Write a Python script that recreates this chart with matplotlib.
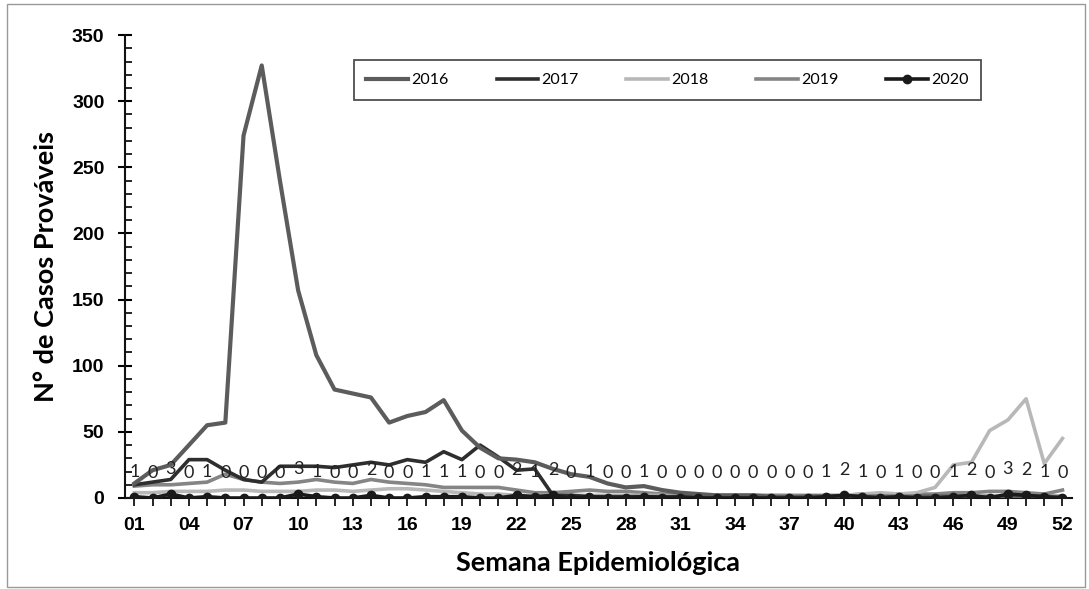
import numpy as np
import matplotlib.pyplot as plt
from matplotlib.patches import Rectangle

# Data (semana epidemiológica 1-52)
weeks = np.arange(1, 53)
tick_labels = ['%02d' % w for w in range(1, 53, 3)]

cases_2016 = [11, 21, 25, 40, 55, 57, 274, 327, 240, 157, 108, 82, 79, 76, 57, 62, 65, 74, 51, 38,
              30, 29, 27, 22, 18, 16, 11, 8, 9, 6, 4, 3, 2, 2, 2, 1, 1, 1, 1, 1,
              1, 1, 1, 1, 1, 1, 1, 1, 1, 1, 1, 1]
cases_2017 = [10, 12, 14, 29, 29, 21, 14, 12, 24, 24, 24, 23, 25, 27, 25, 29, 27, 35, 29, 40,
              31, 21, 22, 2, 2, 1, 1, 1, 1, 1, 1, 1, 1, 1, 1, 1, 1, 1, 1, 1,
              1, 1, 1, 1, 1, 1, 1, 1, 1, 1, 1, 1]
cases_2018 = [4, 4, 5, 5, 5, 6, 6, 5, 5, 5, 6, 6, 5, 6, 7, 7, 6, 5, 4, 3,
              3, 2, 2, 2, 2, 2, 2, 2, 2, 2, 1, 1, 1, 1, 1, 2, 2, 1, 1, 2,
              3, 4, 3, 4, 8, 25, 27, 51, 59, 75, 26, 45]
cases_2019 = [9, 10, 10, 11, 12, 18, 14, 12, 11, 12, 14, 12, 11, 14, 12, 11, 10, 8, 8, 8,
              8, 6, 4, 4, 5, 6, 5, 5, 4, 3, 3, 2, 2, 2, 2, 2, 2, 2, 2, 2,
              3, 3, 3, 3, 3, 4, 4, 5, 5, 4, 3, 6]
cases_2020 = [1, 0, 3, 0, 1, 0, 0, 0, 0, 3, 1, 0, 0, 2, 0, 0, 1, 1, 1, 0,
              0, 2, 1, 2, 0, 1, 0, 0, 1, 0, 0, 0, 0, 0, 0, 0, 0, 0, 1, 2,
              1, 0, 1, 0, 0, 1, 2, 0, 3, 2, 1, 0]

fig = plt.figure(figsize=(10.89, 5.89), dpi=100)
ax = fig.add_axes([0.115, 0.1545, 0.869, 0.786])

ax.plot(weeks, cases_2019, color='#858585', lw=2.6, label='2019', zorder=2)
ax.plot(weeks, cases_2018, color='#b8b8b8', lw=2.6, label='2018', zorder=2)
ax.plot(weeks, cases_2017, color='#2e2e2e', lw=2.6, label='2017', zorder=3)
ax.plot(weeks, cases_2016, color='#5c5c5c', lw=3.0, label='2016', zorder=3)
ax.plot(weeks, cases_2020, color='#1a1a1a', lw=2.6, marker='o', ms=6, label='2020', zorder=4)

for w, v in zip(weeks, cases_2020):
    ax.annotate(str(v), (w, v), xytext=(0, 18), textcoords='offset points',
                ha='center', va='center', fontsize=13, family='Lato', color='#222222', zorder=5)

ax.set_xlim(0.5, 52.5)
ax.set_ylim(0, 350)
ax.set_yticks(np.arange(0, 351, 50))
ax.set_yticks(np.arange(0, 351, 10), minor=True)
ax.set_xticks(range(1, 53, 3))
ax.set_xticklabels(tick_labels)
ax.set_xticks(weeks, minor=True)

for s in ['top', 'right']:
    ax.spines[s].set_visible(False)
for s in ['left', 'bottom']:
    ax.spines[s].set_linewidth(1.5)
    ax.spines[s].set_color('#111111')

ax.tick_params(axis='y', which='major', direction='inout', length=10, width=1.5, labelsize=14, pad=10)
ax.tick_params(axis='y', which='minor', direction='in', length=5, width=1.2)
ax.tick_params(axis='x', which='both', direction='out', length=6, width=1.2, labelsize=14, pad=8)
for lab in ax.get_xticklabels() + ax.get_yticklabels():
    lab.set_fontweight('bold')
    lab.set_family('Liberation Sans')

ax.set_ylabel('N° de Casos Prováveis', fontsize=19.5, fontweight='bold', family='Lato', labelpad=10)
ax.set_xlabel('Semana Epidemiológica', fontsize=19.5, fontweight='bold', family='Lato', labelpad=12)

handles, labels = ax.get_legend_handles_labels()
order = ['2016', '2017', '2018', '2019', '2020']
hmap = dict(zip(labels, handles))
leg = ax.legend([hmap[k] for k in order], order, ncol=5, loc='upper left',
                bbox_to_anchor=(0.233, 0.963), frameon=True, fancybox=False,
                edgecolor='#222222', prop={'family': 'Lato', 'size': 11.5},
                handlelength=2.6, columnspacing=3.0, handletextpad=0.2,
                borderpad=0.8)
leg.get_frame().set_linewidth(1.3)

fig.patches.append(Rectangle((0.006, 0.004), 0.99, 0.99, transform=fig.transFigure,
                             fill=False, edgecolor='#999999', lw=1))

fig.savefig('out.png', dpi=100)
